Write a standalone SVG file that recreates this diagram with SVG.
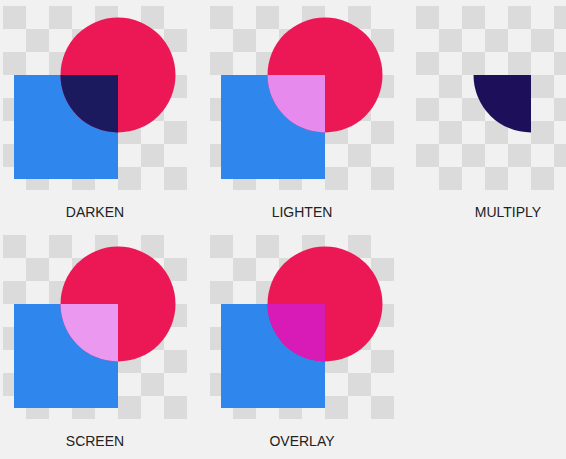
<svg xmlns="http://www.w3.org/2000/svg" width="566" height="459" viewBox="0 0 566 459">
  <style>
    .sq { fill: #2F87EE; }
    .ci { fill: #EC1856; }
    .lbl { font-family: "Liberation Sans", Arial, sans-serif; font-size: 14px; fill: #222222; text-anchor: middle; }
    .board { fill: url(#cb); }
  </style>
  <defs>
    <pattern id="cb" patternUnits="userSpaceOnUse" x="3" y="6" width="46" height="46">
      <rect x="0" y="0" width="46" height="46" fill="#F1F1F1"/>
      <rect x="0" y="0" width="23" height="23" fill="#DBDBDB"/>
      <rect x="23" y="23" width="23" height="23" fill="#DBDBDB"/>
    </pattern>
    <path id="q" d="M118,75 L118,132.5 A57.5,57.5 0 0 1 60.5,75 Z"/>
  </defs>
  <rect x="0" y="0" width="566" height="459" fill="#F1F1F1"/>

  <g id="darken">
    <rect class="board" x="3" y="6" width="184" height="184"/>
    <rect class="sq" x="14" y="75" width="104" height="104"/>
    <circle class="ci" cx="118" cy="75" r="57.5"/>
    <use href="#q" fill="#1C1A5F"/>
    <text class="lbl" x="95" y="217">DARKEN</text>
  </g>

  <g id="lighten" transform="translate(207,0)">
    <rect class="board" x="3" y="6" width="184" height="184"/>
    <rect class="sq" x="14" y="75" width="104" height="104"/>
    <circle class="ci" cx="118" cy="75" r="57.5"/>
    <use href="#q" fill="#E68AEE"/>
    <text class="lbl" x="95" y="217">LIGHTEN</text>
  </g>

  <g id="multiply" transform="translate(413,0)">
    <rect class="board" x="3" y="6" width="184" height="184"/>
    <use href="#q" fill="#1E0F5A"/>
    <text class="lbl" x="95" y="217">MULTIPLY</text>
  </g>

  <g id="screen" transform="translate(0,229)">
    <rect class="board" x="3" y="6" width="184" height="184"/>
    <rect class="sq" x="14" y="75" width="104" height="104"/>
    <circle class="ci" cx="118" cy="75" r="57.5"/>
    <use href="#q" fill="#EB98F0"/>
    <text class="lbl" x="95" y="217">SCREEN</text>
  </g>

  <g id="overlay" transform="translate(207,229)">
    <rect class="board" x="3" y="6" width="184" height="184"/>
    <rect class="sq" x="14" y="75" width="104" height="104"/>
    <circle class="ci" cx="118" cy="75" r="57.5"/>
    <use href="#q" fill="#D81AB6"/>
    <text class="lbl" x="95" y="217">OVERLAY</text>
  </g>

  <g id="connectors"/>
</svg>
